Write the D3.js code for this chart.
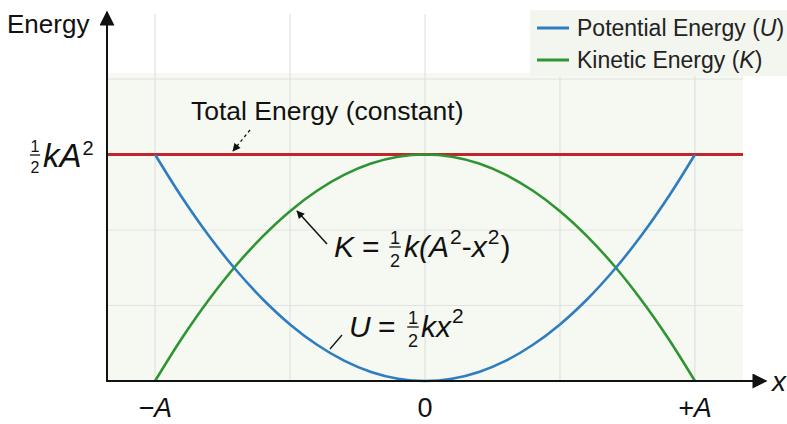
<!DOCTYPE html>
<html>
<head>
<meta charset="utf-8">
<script src="https://cdn.jsdelivr.net/npm/d3@7"></script>
<style>
  body { margin: 0; background: #fff; }
  svg { display: block; font-family: "Liberation Sans", Arial, sans-serif; }
</style>
</head>
<body>
<svg id="chart"></svg>
<script>
const width = 787
const height = 424

// positions in units of A, energies in units of 1/2 k A^2
const xPos = [-1, -0.9, -0.8, -0.7, -0.6, -0.5, -0.4, -0.3, -0.2, -0.1, 0, 0.1, 0.2, 0.3, 0.4, 0.5, 0.6, 0.7, 0.8, 0.9, 1]
const potential = [1, 0.81, 0.64, 0.49, 0.36, 0.25, 0.16, 0.09, 0.04, 0.01, 0, 0.01, 0.04, 0.09, 0.16, 0.25, 0.36, 0.49, 0.64, 0.81, 1]
const kinetic = [0, 0.19, 0.36, 0.51, 0.64, 0.75, 0.84, 0.91, 0.96, 0.99, 1, 0.99, 0.96, 0.91, 0.84, 0.75, 0.64, 0.51, 0.36, 0.19, 0]
const totalEnergy = 1
const xTicks = [-1, 0, 1]
const xTickLabels = ['\u2212A', '0', '+A']
const xGrid = [-1, -0.5, 0, 0.5, 1]
const yGrid = [1 / 3, 2 / 3, 1, 4 / 3]

const legendItems = [
  { name: 'Potential Energy (', sym: 'U', color: '#2f7cc0' },
  { name: 'Kinetic Energy (', sym: 'K', color: '#2e9434' }
]

const x = d3.scaleLinear().domain([-1.178, 1.178]).range([107, 743])
const y = d3.scaleLinear().domain([0, 1.36]).range([381, 73])

const svg = d3.select('#chart').attr('width', width).attr('height', height)

const defs = svg.append('defs')
defs.append('marker')
  .attr('id', 'bigArrow').attr('viewBox', '0 0 10 10')
  .attr('refX', 9).attr('refY', 5)
  .attr('markerWidth', 9).attr('markerHeight', 8)
  .attr('markerUnits', 'userSpaceOnUse')
  .attr('orient', 'auto')
  .append('path').attr('d', 'M0,0 L10,5 L0,10 Z').attr('fill', '#111')
defs.append('marker')
  .attr('id', 'axisArrow').attr('viewBox', '0 0 10 10')
  .attr('refX', 9).attr('refY', 5)
  .attr('markerWidth', 19).attr('markerHeight', 15)
  .attr('markerUnits', 'userSpaceOnUse')
  .attr('orient', 'auto')
  .append('path').attr('d', 'M0,0 L10,5 L0,10 Z').attr('fill', '#111')

// plot background
svg.append('rect')
  .attr('x', x.range()[0]).attr('y', y.range()[1])
  .attr('width', x.range()[1] - x.range()[0])
  .attr('height', y.range()[0] - y.range()[1])
  .attr('fill', '#f6f9f1')

// grid
svg.append('g').selectAll('line').data(xGrid).enter().append('line')
  .attr('x1', d => x(d)).attr('x2', d => x(d))
  .attr('y1', 14).attr('y2', y(0))
  .attr('stroke', '#dcdcdc').attr('stroke-width', 1)
svg.append('g').selectAll('line').data(yGrid).enter().append('line')
  .attr('x1', x.range()[0]).attr('x2', x.range()[1])
  .attr('y1', d => y(d)).attr('y2', d => y(d))
  .attr('stroke', '#e2e2e2').attr('stroke-width', 1)

// total energy
svg.append('line')
  .attr('x1', x.range()[0]).attr('x2', x.range()[1])
  .attr('y1', y(totalEnergy)).attr('y2', y(totalEnergy))
  .attr('stroke', '#c0272d').attr('stroke-width', 3)

const line = d3.line().x(d => x(d[0])).y(d => y(d[1])).curve(d3.curveCatmullRom)

svg.append('path')
  .datum(xPos.map((v, i) => [v, kinetic[i]]))
  .attr('d', line).attr('fill', 'none')
  .attr('stroke', legendItems[1].color).attr('stroke-width', 2.6)
svg.append('path')
  .datum(xPos.map((v, i) => [v, potential[i]]))
  .attr('d', line).attr('fill', 'none')
  .attr('stroke', legendItems[0].color).attr('stroke-width', 2.6)

// axes
svg.append('line')
  .attr('x1', x.range()[0]).attr('y1', y(0))
  .attr('x2', 766).attr('y2', y(0))
  .attr('stroke', '#111').attr('stroke-width', 2)
  .attr('marker-end', 'url(#axisArrow)')
svg.append('line')
  .attr('x1', x.range()[0]).attr('y1', y(0) + 1)
  .attr('x2', x.range()[0]).attr('y2', 12)
  .attr('stroke', '#111').attr('stroke-width', 2)
  .attr('marker-end', 'url(#axisArrow)')

svg.append('text').attr('x', 7).attr('y', 33)
  .attr('font-size', 26).attr('fill', '#111').text('Energy')
svg.append('text').attr('x', 772).attr('y', 391)
  .attr('font-size', 28).attr('font-style', 'italic').attr('fill', '#111').text('x')

svg.append('g').selectAll('text').data(xTicks).enter().append('text')
  .attr('x', d => x(d)).attr('y', 417)
  .attr('text-anchor', 'middle').attr('font-size', 27).attr('fill', '#111')
  .attr('font-style', (d, i) => i === 1 ? 'normal' : 'italic')
  .text((d, i) => xTickLabels[i])

// stacked 1/2: cy = bar position
function half(g, cx, cy, size) {
  g.append('text').attr('x', cx).attr('y', cy - size * 0.18)
    .attr('text-anchor', 'middle').attr('font-size', size).text('1')
  g.append('line').attr('x1', cx - size * 0.32).attr('x2', cx + size * 0.32)
    .attr('y1', cy).attr('y2', cy)
    .attr('stroke', '#111').attr('stroke-width', 1.3)
  g.append('text').attr('x', cx).attr('y', cy + size * 1.1)
    .attr('text-anchor', 'middle').attr('font-size', size).text('2')
}

const yl = svg.append('g').attr('fill', '#111')
half(yl, 35, 155, 16)
const ylt = yl.append('text').attr('x', 43).attr('y', 167).attr('font-size', 33)
ylt.append('tspan').attr('font-style', 'italic').text('kA')
ylt.append('tspan').attr('font-size', 20).attr('dy', -12).attr('dx', 1).text('2')

// total energy annotation
svg.append('text').attr('x', 191).attr('y', 120)
  .attr('font-size', 26.5).attr('fill', '#111').text('Total Energy (constant)')
svg.append('line')
  .attr('x1', 250).attr('y1', 130).attr('x2', 233).attr('y2', 151)
  .attr('stroke', '#111').attr('stroke-width', 1.3)
  .attr('stroke-dasharray', '3,3')
  .attr('marker-end', 'url(#bigArrow)')

// K formula
const kf = svg.append('g').attr('fill', '#111')
kf.append('text').attr('x', 334).attr('y', 257)
  .attr('font-size', 30).attr('font-style', 'italic').text('K')
kf.append('text').attr('x', 362).attr('y', 257)
  .attr('font-size', 30).text('=')
half(kf, 395, 247, 18)
const kt = kf.append('text').attr('x', 404).attr('y', 257).attr('font-size', 30)
kt.append('tspan').attr('font-style', 'italic').text('k(A')
kt.append('tspan').attr('font-size', 21).attr('dy', -13).attr('dx', 1).text('2')
kt.append('tspan').attr('dy', 13).text('-')
kt.append('tspan').attr('font-style', 'italic').text('x')
kt.append('tspan').attr('font-size', 21).attr('dy', -13).attr('dx', 1).text('2')
kt.append('tspan').attr('dy', 13).attr('dx', 1).text(')')
svg.append('line')
  .attr('x1', 327).attr('y1', 244).attr('x2', 297).attr('y2', 211)
  .attr('stroke', '#111').attr('stroke-width', 1.5)
  .attr('marker-end', 'url(#bigArrow)')

// U formula
const uf = svg.append('g').attr('fill', '#111')
uf.append('text').attr('x', 349).attr('y', 337)
  .attr('font-size', 30).attr('font-style', 'italic').text('U')
uf.append('text').attr('x', 378).attr('y', 337)
  .attr('font-size', 30).text('=')
half(uf, 413, 327, 18)
const ut = uf.append('text').attr('x', 421).attr('y', 337).attr('font-size', 30)
ut.append('tspan').attr('font-style', 'italic').text('kx')
ut.append('tspan').attr('font-size', 21).attr('dy', -14).attr('dx', 1).text('2')
svg.append('line')
  .attr('x1', 342).attr('y1', 335).attr('x2', 330).attr('y2', 349)
  .attr('stroke', '#111').attr('stroke-width', 1.3)

// legend
const lg = svg.append('g')
lg.append('rect').attr('x', 530).attr('y', 10).attr('width', 260).attr('height', 66)
  .attr('fill', '#f3f5ef')
legendItems.forEach((d, i) => {
  const ly = 28 + i * 32
  lg.append('line').attr('x1', 537).attr('x2', 569).attr('y1', ly).attr('y2', ly)
    .attr('stroke', d.color).attr('stroke-width', 3)
  const t = lg.append('text').attr('x', 577).attr('y', ly + 8)
    .attr('font-size', 23).attr('fill', '#222')
  t.append('tspan').text(d.name)
  t.append('tspan').attr('font-style', 'italic').text(d.sym)
  t.append('tspan').text(')')
})
</script>
</body>
</html>
